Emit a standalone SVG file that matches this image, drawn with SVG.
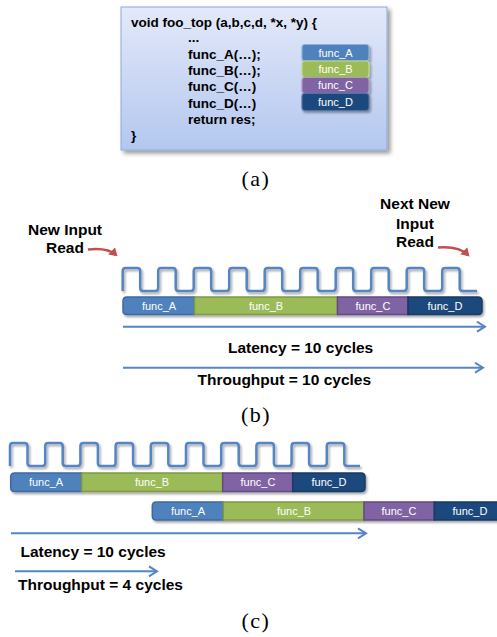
<svg xmlns="http://www.w3.org/2000/svg" width="497" height="637" viewBox="0 0 497 637">
  <style>
    .lbl { font-family: "Liberation Sans", Arial, sans-serif; font-weight: bold; font-size: 15.5px; fill: #000; }
    .code { font-family: "Liberation Sans", Arial, sans-serif; font-weight: bold; font-size: 13.5px; fill: #000; }
    .fn { font-family: "Liberation Sans", Arial, sans-serif; font-size: 11px; fill: #fff; text-anchor: middle; }
    .cap { font-family: "Liberation Serif", "Times New Roman", serif; font-size: 22px; letter-spacing: 1.5px; fill: #000; text-anchor: middle; }
    .wave { fill: none; stroke: #5585c4; stroke-width: 2.5; }
    .flow { fill: none; stroke: #5585c4; stroke-width: 2; }
    .red { fill: none; stroke: #c0504d; stroke-width: 2.5; }
    .a { fill: #4f81bd; stroke: #3b6aa3; stroke-width: 1.5; }
    .b { fill: #9bbb59; stroke: #7c9a44; stroke-width: 1.5; }
    .c { fill: #8064a2; stroke: #634886; stroke-width: 1.5; }
    .d { fill: #1f497d; stroke: #173a66; stroke-width: 1.5; }
    .sa { fill: #4f81bd; stroke: #8fb0dc; stroke-width: 1.2; }
    .sb { fill: #9bbb59; stroke: #c2da8e; stroke-width: 1.2; }
    .sc { fill: #8064a2; stroke: #ad98c8; stroke-width: 1.2; }
    .sd { fill: #1f497d; stroke: #4f74a8; stroke-width: 1.2; }
  </style>
  <defs>
    <linearGradient id="boxFill" x1="0" y1="0" x2="0" y2="1">
      <stop offset="0" stop-color="#e3e9f9"/>
      <stop offset="1" stop-color="#b3c7ef"/>
    </linearGradient>
    <filter id="shadow" x="-10%" y="-20%" width="130%" height="160%">
      <feDropShadow dx="1.5" dy="2" stdDeviation="1.3" flood-color="#000" flood-opacity="0.35"/>
    </filter>
    <filter id="boxShadow" x="-10%" y="-10%" width="125%" height="130%">
      <feDropShadow dx="3" dy="3" stdDeviation="2" flood-color="#000" flood-opacity="0.4"/>
    </filter>
    <marker id="open" markerUnits="userSpaceOnUse" markerWidth="12" markerHeight="14" refX="9" refY="6" orient="auto">
      <path d="M1,1 L9,6 L1,11" fill="none" stroke="#5585c4" stroke-width="2"/>
    </marker>
    <marker id="redHead" markerUnits="userSpaceOnUse" markerWidth="12" markerHeight="12" refX="6" refY="5" orient="auto">
      <path d="M0,0 L8,5 L0,10 Z" fill="#c0504d"/>
    </marker>
  </defs>

  <!-- (a) top-level function with its four sub-functions -->
  <g id="foo_top">
    <rect x="121" y="7" width="266" height="143" fill="url(#boxFill)" stroke="#8ea8da" stroke-width="1" filter="url(#boxShadow)"/>
    <text class="code" x="131" y="27">void foo_top (a,b,c,d, *x, *y) {</text>
    <text class="code" x="188" y="42">...</text>
    <text class="code" x="188" y="58.5">func_A(…);</text>
    <text class="code" x="188" y="75">func_B(…);</text>
    <text class="code" x="188" y="91">func_C(…)</text>
    <text class="code" x="188" y="107.5">func_D(…)</text>
    <text class="code" x="188" y="123.5">return res;</text>
    <text class="code" x="131" y="139.5">}</text>
  </g>
  <g id="stack" filter="url(#shadow)">
    <rect class="sa" x="302" y="44.5" width="67" height="16.5" rx="3"/>
    <rect class="sb" x="302" y="61" width="67" height="16.5" rx="3"/>
    <rect class="sc" x="302" y="77.5" width="67" height="16" rx="3"/>
    <rect class="sd" x="302" y="93.5" width="67" height="17" rx="3"/>
  </g>
  <g id="stack-labels">
    <text class="fn" x="335.5" y="56.5">func_A</text>
    <text class="fn" x="335.5" y="73">func_B</text>
    <text class="fn" x="335.5" y="89">func_C</text>
    <text class="fn" x="335.5" y="105.5">func_D</text>
  </g>
  <text class="cap" x="256" y="186">(a)</text>

  <!-- (b) sequential execution -->
  <g id="clock-b">
    <path class="wave" filter="url(#shadow)" d="M122.7,291 v-20 q0,-3 3,-3 h11.5 q3,0 3,3 v17 q0,3 3,3 h12
      q3,0 3,-3 v-17 q0,-3 3,-3 h11.5 q3,0 3,3 v17 q0,3 3,3 h12
      q3,0 3,-3 v-17 q0,-3 3,-3 h11.5 q3,0 3,3 v17 q0,3 3,3 h12
      q3,0 3,-3 v-17 q0,-3 3,-3 h11.5 q3,0 3,3 v17 q0,3 3,3 h12
      q3,0 3,-3 v-17 q0,-3 3,-3 h11.5 q3,0 3,3 v17 q0,3 3,3 h12
      q3,0 3,-3 v-17 q0,-3 3,-3 h11.5 q3,0 3,3 v17 q0,3 3,3 h12
      q3,0 3,-3 v-17 q0,-3 3,-3 h11.5 q3,0 3,3 v17 q0,3 3,3 h12
      q3,0 3,-3 v-17 q0,-3 3,-3 h11.5 q3,0 3,3 v17 q0,3 3,3 h12
      q3,0 3,-3 v-17 q0,-3 3,-3 h11.5 q3,0 3,3 v17 q0,3 3,3 h12
      q3,0 3,-3 v-17 q0,-3 3,-3 h11.5 q3,0 3,3 v17 q0,3 3,3 h14.3"/>
  </g>
  <g id="run-b" filter="url(#shadow)">
    <path class="a" d="M194.5,297 H127 Q123,297 123,301 V310.5 Q123,314.5 127,314.5 H194.5 Z"/>
    <rect class="b" x="194.5" y="297" width="143" height="17.5"/>
    <rect class="c" x="337.5" y="297" width="70.5" height="17.5"/>
    <path class="d" d="M408,297 H478 Q482,297 482,301 V310.5 Q482,314.5 478,314.5 H408 Z"/>
  </g>
  <g id="run-b-labels">
    <text class="fn" x="159" y="309.5">func_A</text>
    <text class="fn" x="266" y="309.5">func_B</text>
    <text class="fn" x="373" y="309.5">func_C</text>
    <text class="fn" x="445" y="309.5">func_D</text>
  </g>
  <g id="notes-b">
    <text class="lbl" x="65" y="234.5" text-anchor="middle">New Input</text>
    <text class="lbl" x="65" y="252.5" text-anchor="middle">Read</text>
    <text class="lbl" x="415" y="209" text-anchor="middle">Next New</text>
    <text class="lbl" x="415" y="228.5" text-anchor="middle">Input</text>
    <text class="lbl" x="415" y="246.5" text-anchor="middle">Read</text>
    <text class="lbl" x="228" y="352.5">Latency = 10 cycles</text>
    <text class="lbl" x="197.5" y="384.5">Throughput = 10 cycles</text>
  </g>
  <text class="cap" x="256" y="421.5">(b)</text>

  <!-- (c) pipelined execution -->
  <g id="clock-c">
    <path class="wave" filter="url(#shadow)" d="M10,466 v-20 q0,-3 3,-3 h11.5 q3,0 3,3 v17 q0,3 3,3 h11.7
      q3,0 3,-3 v-17 q0,-3 3,-3 h11.5 q3,0 3,3 v17 q0,3 3,3 h11.7
      q3,0 3,-3 v-17 q0,-3 3,-3 h11.5 q3,0 3,3 v17 q0,3 3,3 h11.7
      q3,0 3,-3 v-17 q0,-3 3,-3 h11.5 q3,0 3,3 v17 q0,3 3,3 h11.7
      q3,0 3,-3 v-17 q0,-3 3,-3 h11.5 q3,0 3,3 v17 q0,3 3,3 h11.7
      q3,0 3,-3 v-17 q0,-3 3,-3 h11.5 q3,0 3,3 v17 q0,3 3,3 h11.7
      q3,0 3,-3 v-17 q0,-3 3,-3 h11.5 q3,0 3,3 v17 q0,3 3,3 h11.7
      q3,0 3,-3 v-17 q0,-3 3,-3 h11.5 q3,0 3,3 v17 q0,3 3,3 h11.7
      q3,0 3,-3 v-17 q0,-3 3,-3 h11.5 q3,0 3,3 v17 q0,3 3,3 h11.7
      q3,0 3,-3 v-17 q0,-3 3,-3 h11.5 q3,0 3,3 v17 q0,3 3,3 h12.7"/>
  </g>
  <g id="run-c1" filter="url(#shadow)">
    <path class="a" d="M81.7,473 H14.7 Q10.7,473 10.7,477 V487.5 Q10.7,491.5 14.7,491.5 H81.7 Z"/>
    <rect class="b" x="81.7" y="473" width="141" height="18.5"/>
    <rect class="c" x="222.7" y="473" width="70" height="18.5"/>
    <path class="d" d="M292.7,473 H361 Q365,473 365,477 V487.5 Q365,491.5 361,491.5 H292.7 Z"/>
  </g>
  <g id="run-c1-labels">
    <text class="fn" x="46" y="486">func_A</text>
    <text class="fn" x="152" y="486">func_B</text>
    <text class="fn" x="258" y="486">func_C</text>
    <text class="fn" x="329" y="486">func_D</text>
  </g>
  <g id="run-c2" filter="url(#shadow)">
    <path class="a" d="M223.3,502 H156.3 Q152.3,502 152.3,506 V516 Q152.3,520 156.3,520 H223.3 Z"/>
    <rect class="b" x="223.3" y="502" width="140.7" height="18"/>
    <rect class="c" x="364" y="502" width="70.3" height="18"/>
    <path class="d" d="M434.3,502 H501 Q505,502 505,506 V516 Q505,520 501,520 H434.3 Z"/>
  </g>
  <g id="run-c2-labels">
    <text class="fn" x="188" y="515">func_A</text>
    <text class="fn" x="294" y="515">func_B</text>
    <text class="fn" x="399" y="515">func_C</text>
    <text class="fn" x="470" y="515">func_D</text>
  </g>
  <g id="notes-c">
    <text class="lbl" x="20.5" y="556.5">Latency = 10 cycles</text>
    <text class="lbl" x="18" y="590">Throughput = 4 cycles</text>
  </g>
  <text class="cap" x="256" y="628">(c)</text>

  <!-- connectors: time spans and read markers -->
  <g id="connectors">
    <line class="flow" x1="123" y1="326.7" x2="485" y2="326.7" marker-end="url(#open)"/>
    <line class="flow" x1="123" y1="367.7" x2="483" y2="367.7" marker-end="url(#open)"/>
    <line class="flow" x1="11" y1="533.3" x2="366" y2="533.3" marker-end="url(#open)"/>
    <line class="flow" x1="15" y1="571.3" x2="157" y2="571.3" marker-end="url(#open)"/>
    <path class="red" d="M88,249.5 Q108,247.5 116,255" marker-end="url(#redHead)"/>
    <path class="red" d="M438,247.5 Q459,246 468,255" marker-end="url(#redHead)"/>
  </g>
</svg>
